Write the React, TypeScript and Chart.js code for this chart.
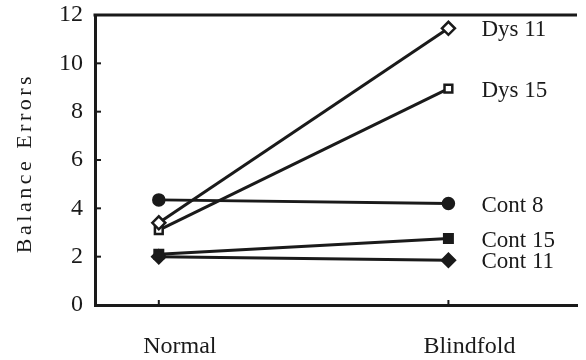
import React, { useEffect, useRef } from "react";
import { Chart, registerables } from "chart.js";

Chart.register(...registerables);

const categories = ["Normal", "Blindfold"];
const seriesNames = ["Dys 11", "Dys 15", "Cont 8", "Cont 15", "Cont 11"];
const dys11 = [3.4, 11.45];
const dys15 = [3.1, 8.95];
const cont8 = [4.35, 4.2];
const cont15 = [2.1, 2.75];
const cont11 = [2.0, 1.85];
const yTicks = [0, 2, 4, 6, 8, 10, 12];
const yTitle = "Balance Errors";

const INK = "#1a1a1a";
const FONT = "'Liberation Serif', 'Times New Roman', serif";

const toPoints = (vals: number[]) => vals.map((v, i) => ({ x: i, y: v }));

const decorPlugin = {
  id: "decor",
  afterDatasetsDraw(chart: any) {
    const { ctx, chartArea } = chart;
    const xs = chart.scales.x;
    const ys = chart.scales.y;
    ctx.save();
    ctx.strokeStyle = INK;
    ctx.lineWidth = 3;
    // top frame line
    ctx.beginPath();
    ctx.moveTo(chartArea.left - 1.5, chartArea.top);
    ctx.lineTo(chartArea.right, chartArea.top);
    ctx.stroke();
    // inward ticks
    ctx.lineWidth = 2;
    yTicks.forEach((t) => {
      const y = ys.getPixelForValue(t);
      ctx.beginPath();
      ctx.moveTo(chartArea.left, y);
      ctx.lineTo(chartArea.left + 6, y);
      ctx.stroke();
    });
    categories.forEach((_, i) => {
      const x = xs.getPixelForValue(i);
      ctx.beginPath();
      ctx.moveTo(x, chartArea.bottom);
      ctx.lineTo(x, chartArea.bottom - 5);
      ctx.stroke();
    });
    // series end labels
    ctx.fillStyle = INK;
    ctx.font = `23px ${FONT}`;
    ctx.textAlign = "left";
    ctx.textBaseline = "middle";
    chart.data.datasets.forEach((ds: any, di: number) => {
      const meta = chart.getDatasetMeta(di);
      const last = meta.data[meta.data.length - 1];
      ctx.fillText(ds.label, last.x + 33, last.y + 2);
    });
    // y title
    ctx.translate(25, (chartArea.top + chartArea.bottom) / 2 + 5);
    ctx.rotate(-Math.PI / 2);
    ctx.font = `22px ${FONT}`;
    (ctx as any).letterSpacing = "3.5px";
    ctx.textAlign = "center";
    ctx.fillText(yTitle, 2, 0);
    ctx.restore();
  },
};

export default function App() {
  const ref = useRef<HTMLCanvasElement>(null);
  useEffect(() => {
    if (!ref.current) return;
    const mk = (label: string, vals: number[], style: string, filled: boolean, r: number) => ({
      label,
      data: toPoints(vals),
      borderColor: INK,
      borderWidth: 3,
      pointStyle: style,
      pointRadius: r,
      pointBorderWidth: 2.5,
      pointBorderColor: INK,
      pointBackgroundColor: filled ? INK : "#ffffff",
      showLine: true,
      fill: false,
    });
    const chart = new Chart(ref.current, {
      type: "scatter",
      data: {
        datasets: [
          mk(seriesNames[0], dys11, "rectRot", false, 6.5),
          mk(seriesNames[1], dys15, "rect", false, 5.5),
          mk(seriesNames[2], cont8, "circle", true, 5.5),
          mk(seriesNames[3], cont15, "rect", true, 6),
          mk(seriesNames[4], cont11, "rectRot", true, 6.5),
        ] as any,
      },
      plugins: [decorPlugin],
      options: {
        animation: false,
        responsive: false,
        devicePixelRatio: 1,
        layout: { padding: { top: 15, left: 0, right: 0, bottom: 0 } },
        plugins: { legend: { display: false }, tooltip: { enabled: false } },
        scales: {
          x: {
            type: "linear",
            min: -0.2203,
            max: 1.444,
            afterBuildTicks: (s: any) => {
              s.ticks = categories.map((_, i) => ({ value: i }));
            },
            afterFit: (s: any) => {
              s.height = 55;
              s.paddingLeft = 0;
              s.paddingRight = 0;
            },
            grid: { display: false, drawTicks: false },
            border: { display: true, color: INK, width: 3 },
            ticks: {
              padding: 27,
              labelOffset: 21,
              color: INK,
              font: { family: FONT, size: 24 },
              callback: (v: any) => categories[v] ?? "",
            },
          },
          y: {
            type: "linear",
            min: 0,
            max: 12,
            afterBuildTicks: (s: any) => {
              s.ticks = yTicks.map((v) => ({ value: v }));
            },
            afterFit: (s: any) => {
              s.width = 95;
              s.paddingTop = 0;
              s.paddingBottom = 0;
            },
            grid: { display: false, drawTicks: false },
            border: { display: true, color: INK, width: 3 },
            ticks: {
              padding: 12,
              color: INK,
              font: { family: FONT, size: 24 },
            },
          },
        },
      } as any,
    });
    return () => chart.destroy();
  }, []);
  return (
    <div style={{ position: "fixed", left: 0, top: 0, width: 586, height: 360, background: "#ffffff" }}>
      <canvas ref={ref} width={586} height={360} style={{ display: "block", width: 586, height: 360 }} />
    </div>
  );
}
